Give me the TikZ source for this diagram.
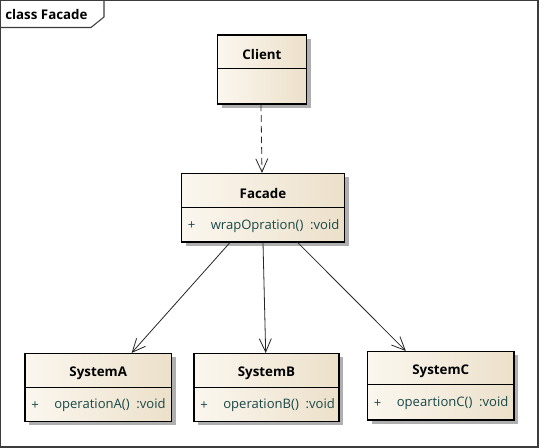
\documentclass[tikz,border=0pt]{standalone}
\usepackage{fontspec}
\setmainfont{Open Sans}
\usetikzlibrary{arrows.meta}
\definecolor{boxL}{RGB}{251,247,239}
\definecolor{boxR}{RGB}{236,224,202}
\definecolor{attrc}{RGB}{25,72,72}
\definecolor{shadowc}{RGB}{175,175,175}
\definecolor{framec}{RGB}{60,60,60}
\tikzset{
  clsbox/.style={draw=black, line width=0.8pt, left color=boxL, right color=boxR, inner sep=0pt},
  sepline/.style={draw=black, line width=0.6pt},
  titletxt/.style={font=\bfseries\fontsize{10}{12}\selectfont, inner sep=0pt},
  attrtxt/.style={font=\fontsize{9.8}{11}\selectfont, text=attrc, inner sep=0pt},
  assoc/.style={draw=black!85, line width=0.6pt, -{Straight Barb[length=10pt,width=9pt,line width=0.6pt]}},
  dep/.style={assoc, dash pattern=on 5pt off 3pt},
}
\newcommand{\umlclass}[7]{% name x1 y1 x2 y2 sepy title
  \fill[shadowc] ({#2+4},{#3+4}) rectangle ({#4+4},{#5+4});
  \node[clsbox, minimum width={(#4-#2)*0.75pt}, minimum height={(#5-#3)*0.75pt}] (#1) at ({(#2+#4)/2},{(#3+#5)/2}) {};
  \draw[sepline] (#2,#6) -- (#4,#6);
  \node[titletxt] (#1-title) at ({(#2+#4)/2},{(#3+#6)/2+3.5}) {#7};
}
\newcommand{\umlattr}[4]{% name x1 y text
  \node[attrtxt] (#1-vis) at ({#2+10},#3) {+};
  \node[attrtxt, anchor=west] (#1-attr) at ({#2+29},#3) {#4};
}
\begin{document}
\begin{tikzpicture}[x=0.75pt,y=-0.75pt]
\useasboundingbox (0,0) rectangle (539,448);
\fill[white] (0,0) rectangle (539,448);
% frame
\draw[framec, line width=0.8pt] (0.5,0.5) rectangle (538,447);
\draw[framec, line width=0.8pt] (0.5,27.5) -- (91,27.5) -- (104,17) -- (104,0.5);
\node[font=\bfseries\fontsize{10}{12}\selectfont, anchor=west, inner sep=0pt] (frametitle) at (5,14.5) {class Facade};
% classes
\umlclass{client}{217.5}{35}{306.5}{104}{68}{Client}
\umlclass{facade}{181.5}{173.5}{344.5}{242}{207}{Facade}
\umlattr{facade}{181.5}{226}{wrapOpration()\ \ :void}
\umlclass{sysA}{25}{353.5}{171.5}{421.5}{387}{SystemA}
\umlattr{sysA}{25}{405.5}{operationA()\ \ :void}
\umlclass{sysB}{194}{353.5}{339}{421.5}{387}{SystemB}
\umlattr{sysB}{194}{405.5}{operationB()\ \ :void}
\umlclass{sysC}{367.5}{351.5}{514}{420}{384.5}{SystemC}
\umlattr{sysC}{367.5}{403.5}{opeartionC()\ \ :void}
% connectors
\draw[dep] ([xshift=-0.75pt]client.south) -- ([xshift=-0.75pt]facade.north);
\draw[assoc] ([xshift=-24.75pt]facade.south) -- ([xshift=25pt]sysA.north);
\draw[assoc] ([xshift=0pt]facade.south) -- ([xshift=-0.6pt]sysB.north);
\draw[assoc] ([xshift=26pt]facade.south) -- ([xshift=-26.2pt]sysC.north);
\end{tikzpicture}
\end{document}
